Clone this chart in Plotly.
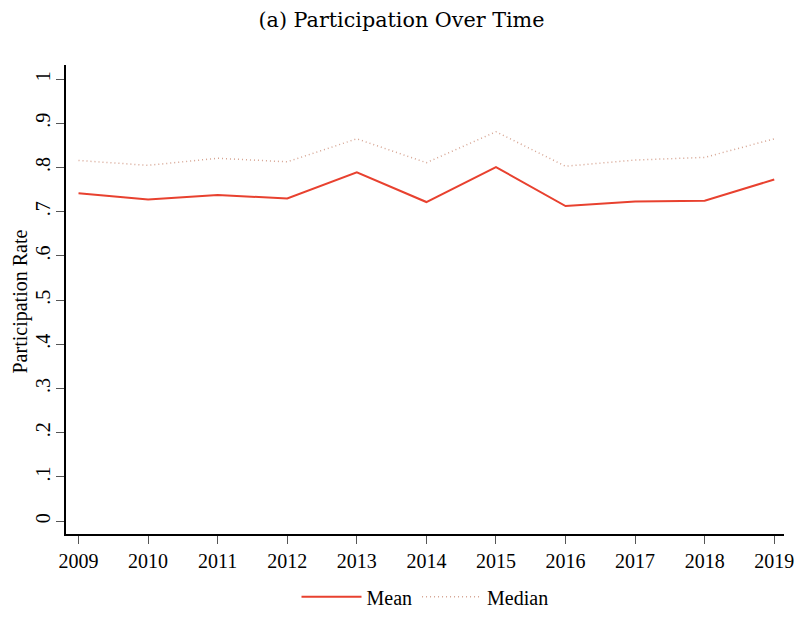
import plotly.graph_objects as go

years = [2009, 2010, 2011, 2012, 2013, 2014, 2015, 2016, 2017, 2018, 2019]
mean_rate = [0.742, 0.728, 0.738, 0.730, 0.789, 0.722, 0.801, 0.713, 0.723, 0.725, 0.773]
median_rate = [0.816, 0.805, 0.821, 0.813, 0.865, 0.811, 0.881, 0.803, 0.817, 0.823, 0.865]

y_ticks = [0, 0.1, 0.2, 0.3, 0.4, 0.5, 0.6, 0.7, 0.8, 0.9, 1]
y_labels = ['0', '.1', '.2', '.3', '.4', '.5', '.6', '.7', '.8', '.9', '1']

serif = 'Liberation Serif, Times New Roman, serif'

fig = go.Figure()
fig.add_trace(go.Scatter(
    x=years, y=mean_rate,
    mode='lines', name='Mean',
    line=dict(color='#e8412f', width=2)
))
fig.add_trace(go.Scatter(
    x=years, y=median_rate,
    mode='lines', name='Median',
    line=dict(color='#d6a492', width=1.5, dash='1px,3px')
))

# page body adds 8px all round, so keep the figure inside the window
fig.update_layout(
    width=787, height=602,
    margin=dict(l=58, r=11, t=57, b=76),
    paper_bgcolor='white',
    plot_bgcolor='white',
    font=dict(family=serif, size=20, color='black'),
    title=dict(text='(a) Participation Over Time', x=0.5, xanchor='center',
               y=1 - 4 / 602, yanchor='top',
               font=dict(family='DejaVu Serif, serif', size=20.7)),
    showlegend=True,
    legend=dict(orientation='h', x=0.5, xanchor='center',
                yref='container', y=0.022, yanchor='middle',
                font=dict(size=20), itemwidth=60, borderwidth=0),
)
fig.update_xaxes(
    range=[2008.82, 2019.14],
    tickvals=years, automargin=False,
    showline=True, linecolor='black', linewidth=1.5,
    ticks='outside', ticklen=8, tickcolor='#555555',
    showgrid=False, zeroline=False,
)
fig.update_yaxes(
    range=[-0.029, 1.032],
    tickvals=y_ticks, ticktext=y_labels, tickangle=-90,
    ticklabelstandoff=-2, automargin=False,
    showline=True, linecolor='black', linewidth=1.5,
    ticks='outside', ticklen=8, tickcolor='#555555',
    showgrid=False, zeroline=False,
)
# y-axis title placed by hand so it keeps clear of the rotated tick labels
fig.add_annotation(
    text='Participation Rate', textangle=-90,
    xref='paper', yref='paper', x=0, y=0.5,
    xanchor='center', yanchor='middle', xshift=-46, yshift=-2,
    showarrow=False, font=dict(size=20),
)

fig.write_html('out.html')
